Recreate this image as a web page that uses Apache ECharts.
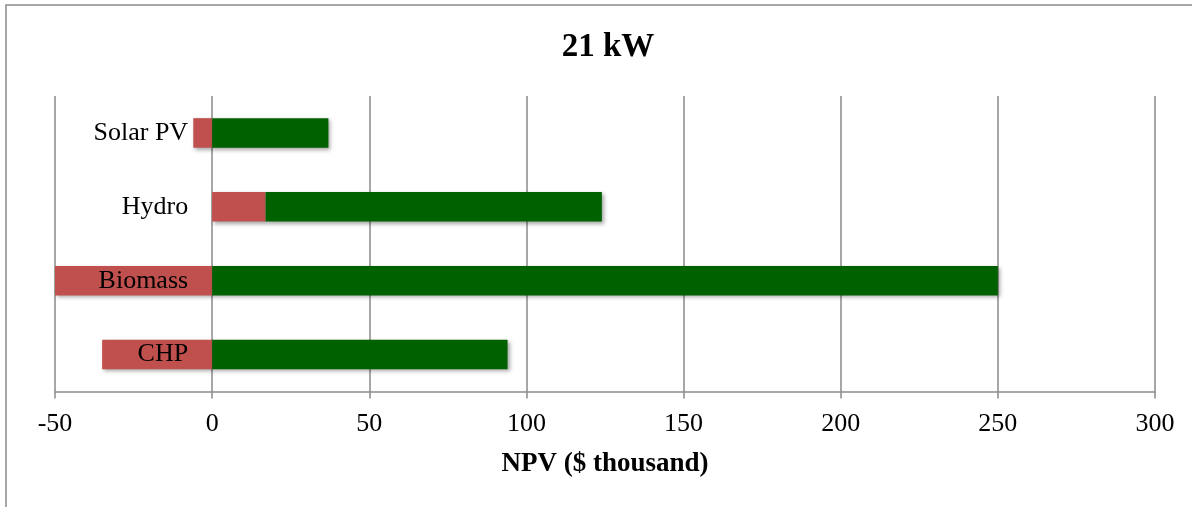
<!DOCTYPE html>
<html>
<head>
<meta charset="utf-8">
<title>21 kW</title>
<script src="https://cdn.jsdelivr.net/npm/echarts@6/dist/echarts.min.js"></script>
<style>
  html, body { margin: 0; padding: 0; background: #ffffff; }
  #chart { width: 1192px; height: 507px; }
</style>
</head>
<body>
<div id="chart"></div>
<script>
// Technologies, listed top to bottom
const technologies = ['Solar PV', 'Hydro', 'Biomass', 'CHP'];
// First stacked segment (red), $ thousand
const lowSegment = [-6, 17, -50, -35];
// Second stacked segment (green), $ thousand
const highSegment = [37, 107, 250, 94];
// Value axis range and step
const axisMin = -50;
const axisMax = 300;
const axisStep = 50;

const serif = '"Liberation Serif", "DejaVu Serif", serif';
const gridGray = '#8a8a8a';
const gridLeft = 55;
const barShadow = {
  shadowColor: 'rgba(0,0,0,0.35)',
  shadowBlur: 4,
  shadowOffsetX: 2,
  shadowOffsetY: 2
};

const chart = echarts.init(document.getElementById('chart'), null, { renderer: 'canvas' });

chart.setOption({
  animation: false,
  backgroundColor: '#ffffff',
  title: {
    text: '21 kW',
    left: 603,
    textAlign: 'center',
    top: 26,
    textStyle: { fontFamily: serif, fontSize: 33, fontWeight: 'bold', color: '#000000' }
  },
  graphic: [{
    type: 'rect',
    shape: { x: 6, y: 5, width: 1300, height: 600 },
    style: { fill: 'none', stroke: '#8a8a8a', lineWidth: 1.5 },
    silent: true
  }],
  grid: {
    left: gridLeft, right: 37, top: 96, bottom: 115.5,
    containLabel: false,
    outerBoundsMode: 'none'
  },
  xAxis: {
    type: 'value',
    min: axisMin,
    max: axisMax,
    interval: axisStep,
    name: 'NPV ($ thousand)',
    nameLocation: 'middle',
    nameGap: 59,
    nameTextStyle: { fontFamily: serif, fontSize: 27, fontWeight: 'bold', color: '#000000' },
    axisLine: { show: true, onZero: false, lineStyle: { color: gridGray, width: 1.5 } },
    axisTick: { show: true, length: 7, inside: false, lineStyle: { color: gridGray, width: 1.5 } },
    axisLabel: { margin: 20, fontFamily: serif, fontSize: 26, color: '#000000' },
    splitLine: { show: true, lineStyle: { color: gridGray, width: 1.5 } }
  },
  yAxis: {
    type: 'category',
    data: technologies,
    inverse: true,
    z: 10,
    axisLine: { show: false },
    axisTick: { show: false },
    splitLine: { show: false },
    axisLabel: { margin: 24, fontFamily: serif, fontSize: 26, color: '#000000' }
  },
  series: [
    {
      name: 'low',
      type: 'bar',
      stack: 'npv',
      data: lowSegment,
      barWidth: '40%',
      itemStyle: Object.assign({ color: '#c0504d' }, barShadow)
    },
    {
      name: 'high',
      type: 'bar',
      stack: 'npv',
      data: highSegment,
      barWidth: '40%',
      itemStyle: Object.assign({ color: '#006100' }, barShadow)
    }
  ]
});

// Place the category labels beside the zero line of the value axis
const zeroX = chart.convertToPixel({ xAxisIndex: 0 }, 0);
chart.setOption({ yAxis: { offset: -(zeroX - gridLeft) } });
</script>
</body>
</html>
